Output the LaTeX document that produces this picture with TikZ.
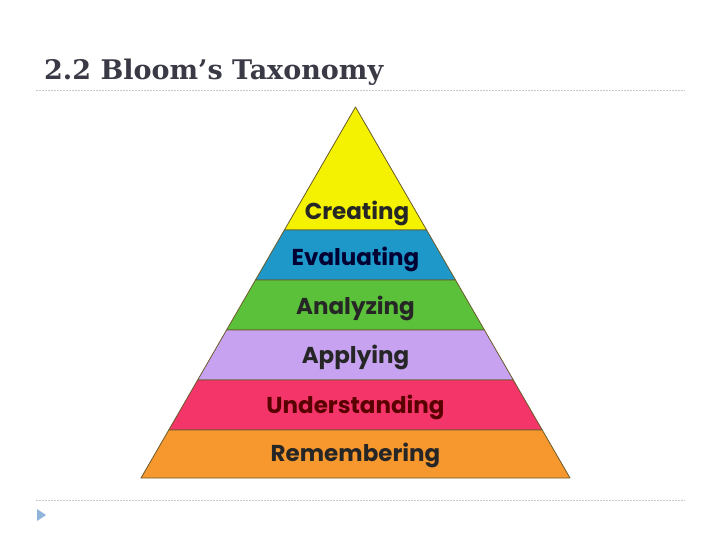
\documentclass[tikz,border=0pt]{standalone}
\usepackage{fontspec}
\setsansfont{Poppins}
\usetikzlibrary{positioning}
\definecolor{titlegray}{HTML}{3A3A46}
\definecolor{rulegray}{HTML}{C8C8C8}
\definecolor{bandyellow}{HTML}{F4F200}
\definecolor{bandblue}{HTML}{1E98C8}
\definecolor{bandgreen}{HTML}{5CC13A}
\definecolor{bandpurple}{HTML}{C6A2F0}
\definecolor{bandred}{HTML}{F3356A}
\definecolor{bandorange}{HTML}{F7982F}
\definecolor{edgebrown}{HTML}{6A5A2A}
\definecolor{marker}{HTML}{8FB3D9}
\tikzset{
  band/.style={draw=edgebrown, line width=0.8pt, line join=round},
  bandlabel/.style={font=\sffamily\bfseries\fontsize{23}{26}\selectfont, text=black!85, inner sep=0pt},
  slideline/.style={draw=rulegray, dashed, dash pattern=on 1.5pt off 1.5pt, line width=0.6pt}
}
\begin{document}
\begin{tikzpicture}[x=1pt,y=-1pt]
\useasboundingbox (0,0) rectangle (720,540);
% title and rules
\node[anchor=base west, inner sep=0pt, text=titlegray,
      font=\fontspec{DejaVu Serif}\bfseries\fontsize{27}{32}\selectfont] (title) at (44,80) {2.2 Bloom’s Taxonomy};
\draw[slideline] (36,90) -- (685,90);
\draw[slideline] (36,500) -- (685,500);
\fill[marker] (37,509) -- (46,515) -- (37,521) -- cycle;
% pyramid bands: top y, bottom y, colour
\foreach \ya/\yb/\col in {
    107/230/bandyellow, 230/280/bandblue, 280/330/bandgreen,
    330/380/bandpurple, 380/430/bandred, 430/478/bandorange}{
  \pgfmathsetmacro{\wa}{(\ya-107)/371*214.5}
  \pgfmathsetmacro{\wb}{(\yb-107)/371*214.5}
  \draw[band, fill=\col] (355.5-\wa,\ya) -- (355.5+\wa,\ya) -- (355.5+\wb,\yb) -- (355.5-\wb,\yb) -- cycle;
}
\node[bandlabel] (creating) at (357,213) {Creating};
\node[bandlabel, text=black!80!blue] (evaluating) at (355.5,259) {Evaluating};
\node[bandlabel] (analyzing) at (355.5,308) {Analyzing};
\node[bandlabel] (applying) at (355.5,357) {Applying};
\node[bandlabel, text=black!65!red] (understanding) at (355.5,407) {Understanding};
\node[bandlabel] (remembering) at (355.5,455) {Remembering};
\end{tikzpicture}
\end{document}
